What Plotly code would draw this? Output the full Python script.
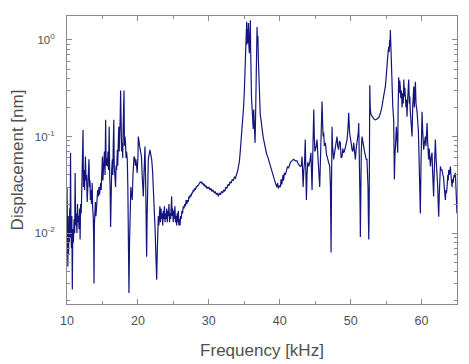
import plotly.graph_objects as go

freq_khz = [
    10.00, 10.04, 10.08, 10.12, 10.17, 10.22, 10.27, 10.32, 10.38, 10.44,
    10.50, 10.56, 10.62, 10.68, 10.75, 10.82, 10.90, 11.00, 11.08, 11.15,
    11.22, 11.30, 11.40, 11.48, 11.55, 11.62, 11.70, 11.78, 11.85, 11.92,
    12.00, 12.05, 12.12, 12.20, 12.26, 12.32, 12.40, 12.48, 12.55, 12.60,
    12.68, 12.76, 12.85, 12.95, 13.02, 13.10, 13.18, 13.25, 13.30, 13.38,
    13.45, 13.55, 13.62, 13.70, 13.76, 13.81, 13.86, 13.94, 14.00, 14.08,
    14.15, 14.25, 14.33, 14.42, 14.50, 14.58, 14.66, 14.75, 14.82, 14.90,
    15.00, 15.06, 15.12, 15.20, 15.28, 15.36, 15.45, 15.52, 15.60, 15.70,
    15.78, 15.86, 15.95, 16.02, 16.08, 16.15, 16.22, 16.30, 16.40, 16.46,
    16.52, 16.60, 16.66, 16.72, 16.78, 16.85, 16.92, 17.00, 17.10, 17.16,
    17.22, 17.30, 17.36, 17.42, 17.50, 17.56, 17.62, 17.70, 17.80, 17.86,
    17.92, 17.98, 18.04, 18.10, 18.18, 18.25, 18.32, 18.40, 18.50, 18.58,
    18.65, 18.74, 18.82, 18.90, 19.00, 19.10, 19.20, 19.30, 19.38, 19.45,
    19.55, 19.65, 19.72, 19.80, 19.90, 20.00, 20.06, 20.15, 20.25, 20.35,
    20.50, 20.60, 20.70, 20.76, 20.85, 21.00, 21.10, 21.18, 21.23, 21.30,
    21.40, 21.47, 21.58, 21.70, 21.82, 21.94, 22.06, 22.18, 22.30, 22.41,
    22.50, 22.58, 22.65, 22.72, 22.80, 22.88, 22.95, 23.02, 23.10, 23.18,
    23.26, 23.34, 23.42, 23.50, 23.58, 23.66, 23.74, 23.82, 23.90, 23.98,
    24.06, 24.14, 24.22, 24.30, 24.38, 24.46, 24.54, 24.62, 24.70, 24.76,
    24.82, 24.90, 24.98, 25.06, 25.14, 25.22, 25.30, 25.38, 25.46, 25.54,
    25.62, 25.70, 25.78, 25.86, 25.94, 26.02, 26.10, 26.20, 26.30, 26.40,
    26.50, 26.60, 26.70, 26.80, 26.90, 27.00, 27.10, 27.20, 27.30, 27.40,
    27.50, 27.60, 27.70, 27.80, 27.90, 28.00, 28.10, 28.20, 28.30, 28.40,
    28.50, 28.60, 28.70, 28.80, 28.90, 29.00, 29.10, 29.20, 29.30, 29.40,
    29.50, 29.60, 29.70, 29.80, 29.90, 30.00, 30.15, 30.30, 30.45, 30.60,
    30.78, 30.90, 31.05, 31.20, 31.35, 31.50, 31.65, 31.80, 31.95, 32.10,
    32.25, 32.40, 32.55, 32.70, 32.85, 33.00, 33.15, 33.30, 33.45, 33.60,
    33.75, 33.90, 34.00, 34.10, 34.20, 34.30, 34.42, 34.54, 34.66, 34.78,
    34.90, 35.00, 35.12, 35.25, 35.30, 35.34, 35.38, 35.43, 35.48, 35.54,
    35.58, 35.64, 35.72, 35.78, 35.86, 35.90, 35.95, 36.02, 36.10, 36.19,
    36.26, 36.33, 36.40, 36.46, 36.52, 36.58, 36.66, 36.72, 36.80, 36.86,
    36.92, 36.99, 37.06, 37.13, 37.25, 37.36, 37.50, 37.65, 37.83, 38.00,
    38.15, 38.30, 38.50, 38.77, 39.00, 39.24, 39.45, 39.60, 39.70, 39.80,
    39.95, 40.10, 40.18, 40.30, 40.45, 40.55, 40.65, 40.80, 40.95, 41.10,
    41.25, 41.40, 41.50, 41.70, 41.97, 42.20, 42.44, 42.60, 42.75, 42.90,
    43.05, 43.15, 43.22, 43.30, 43.40, 43.50, 43.60, 43.68, 43.76, 43.85,
    43.95, 44.10, 44.25, 44.40, 44.50, 44.56, 44.65, 44.72, 44.80, 44.88,
    44.95, 45.03, 45.15, 45.26, 45.40, 45.52, 45.64, 45.75, 45.85, 45.97,
    46.05, 46.12, 46.20, 46.30, 46.44, 46.60, 46.77, 46.90, 47.05, 47.15,
    47.24, 47.30, 47.38, 47.45, 47.52, 47.60, 47.70, 47.85, 47.95, 48.08,
    48.18, 48.30, 48.42, 48.55, 48.65, 48.79, 48.90, 49.00, 49.12, 49.26,
    49.38, 49.50, 49.62, 49.73, 49.85, 49.96, 50.08, 50.20, 50.32, 50.43,
    50.55, 50.67, 50.78, 50.90, 51.00, 51.08, 51.14, 51.20, 51.28, 51.33,
    51.37, 51.42, 51.50, 51.60, 51.70, 51.84, 51.95, 52.08, 52.20, 52.30,
    52.38, 52.45, 52.50, 52.56, 52.62, 52.70, 52.76, 52.85, 53.02, 53.20,
    53.35, 53.50, 53.70, 53.96, 54.20, 54.40, 54.65, 54.90, 55.02, 55.13,
    55.25, 55.37, 55.43, 55.50, 55.55, 55.60, 55.66, 55.74, 55.80, 55.84,
    55.95, 56.07, 56.12, 56.17, 56.24, 56.30, 56.38, 56.45, 56.55, 56.64,
    56.70, 56.78, 56.85, 56.92, 57.00, 57.08, 57.16, 57.25, 57.35, 57.42,
    57.50, 57.58, 57.65, 57.70, 57.80, 57.88, 57.95, 58.05, 58.12, 58.19,
    58.28, 58.35, 58.40, 58.50, 58.58, 58.66, 58.75, 58.82, 58.90, 58.98,
    59.05, 59.13, 59.22, 59.30, 59.37, 59.47, 59.55, 59.65, 59.75, 59.83,
    59.92, 60.00, 60.07, 60.15, 60.22, 60.30, 60.40, 60.48, 60.54, 60.62,
    60.70, 60.78, 60.86, 60.94, 61.00, 61.08, 61.15, 61.25, 61.35, 61.48,
    61.55, 61.62, 61.70, 61.78, 61.86, 61.95, 62.05, 62.12, 62.19, 62.28,
    62.35, 62.42, 62.50, 62.58, 62.66, 62.78, 62.90, 63.00, 63.10, 63.20,
    63.28, 63.36, 63.45, 63.52, 63.60, 63.70, 63.76, 63.83, 63.92, 64.00,
    64.07, 64.15, 64.22, 64.30, 64.38, 64.45, 64.50, 64.60, 64.68, 64.77,
    64.85, 64.92, 65.00,
]

displacement_nm = [
    0.030, 0.008, 0.020, 0.0045, 0.015, 0.006, 0.012, 0.008, 0.018, 0.009,
    0.068, 0.012, 0.007, 0.015, 0.0026, 0.011, 0.008, 0.014, 0.010, 0.042,
    0.012, 0.016, 0.010, 0.020, 0.013, 0.015, 0.011, 0.018, 0.0086, 0.020,
    0.016, 0.022, 0.035, 0.050, 0.117, 0.030, 0.045, 0.028, 0.040, 0.062,
    0.035, 0.040, 0.021, 0.030, 0.045, 0.058, 0.030, 0.035, 0.022, 0.028,
    0.020, 0.033, 0.018, 0.015, 0.009, 0.003, 0.012, 0.018, 0.021, 0.015,
    0.020, 0.022, 0.028, 0.024, 0.030, 0.025, 0.030, 0.033, 0.028, 0.040,
    0.062, 0.035, 0.050, 0.045, 0.070, 0.040, 0.149, 0.050, 0.060, 0.049,
    0.070, 0.045, 0.126, 0.040, 0.030, 0.0116, 0.035, 0.045, 0.058, 0.040,
    0.080, 0.149, 0.050, 0.045, 0.035, 0.030, 0.050, 0.045, 0.073, 0.050,
    0.080, 0.126, 0.070, 0.090, 0.150, 0.30, 0.090, 0.070, 0.086, 0.060,
    0.120, 0.180, 0.30, 0.080, 0.100, 0.086, 0.060, 0.070, 0.058, 0.030,
    0.010, 0.0024, 0.008, 0.022, 0.030, 0.025, 0.022, 0.040, 0.055, 0.062,
    0.060, 0.050, 0.058, 0.045, 0.042, 0.060, 0.100, 0.090, 0.079, 0.070,
    0.062, 0.040, 0.030, 0.024, 0.040, 0.079, 0.030, 0.012, 0.0057, 0.015,
    0.045, 0.058, 0.065, 0.073, 0.065, 0.058, 0.045, 0.030, 0.020, 0.0116,
    0.007, 0.004, 0.0033, 0.006, 0.010, 0.015, 0.012, 0.017, 0.019, 0.013,
    0.018, 0.014, 0.016, 0.012, 0.017, 0.014, 0.019, 0.013, 0.016, 0.014,
    0.018, 0.013, 0.017, 0.015, 0.020, 0.013, 0.016, 0.014, 0.021, 0.024,
    0.015, 0.018, 0.013, 0.017, 0.014, 0.019, 0.013, 0.015, 0.012, 0.016,
    0.013, 0.017, 0.012, 0.014, 0.012, 0.015, 0.014, 0.017, 0.016, 0.019,
    0.018, 0.020, 0.019, 0.022, 0.020, 0.022, 0.021, 0.024, 0.023, 0.025,
    0.024, 0.026, 0.026, 0.028, 0.027, 0.029, 0.028, 0.030, 0.030, 0.031,
    0.031, 0.032, 0.033, 0.034, 0.033, 0.034, 0.032, 0.033, 0.031, 0.032,
    0.030, 0.031, 0.029, 0.030, 0.029, 0.030, 0.028, 0.029, 0.027, 0.028,
    0.026, 0.027, 0.025, 0.026, 0.024, 0.026, 0.025, 0.027, 0.026, 0.028,
    0.027, 0.030, 0.029, 0.032, 0.031, 0.034, 0.033, 0.036, 0.035, 0.038,
    0.037, 0.040, 0.042, 0.045, 0.050, 0.054, 0.068, 0.086, 0.115, 0.149,
    0.20, 0.28, 0.45, 0.73, 1.2, 1.54, 0.9, 1.3, 0.93, 1.2,
    1.5, 0.9, 0.73, 1.1, 1.6, 0.8, 0.36, 0.25, 0.20, 0.16,
    0.12, 0.19, 0.11, 0.15, 0.086, 0.14, 0.28, 0.60, 1.36, 0.9,
    1.1, 0.62, 0.35, 0.20, 0.17, 0.149, 0.120, 0.100, 0.086, 0.072,
    0.066, 0.062, 0.055, 0.049, 0.040, 0.036, 0.032, 0.030, 0.033, 0.029,
    0.031, 0.030, 0.036, 0.032, 0.040, 0.035, 0.042, 0.040, 0.046, 0.049,
    0.047, 0.052, 0.054, 0.056, 0.058, 0.056, 0.056, 0.052, 0.050, 0.049,
    0.050, 0.062, 0.045, 0.030, 0.045, 0.054, 0.093, 0.050, 0.022, 0.040,
    0.054, 0.049, 0.055, 0.068, 0.045, 0.028, 0.060, 0.090, 0.19, 0.100,
    0.070, 0.073, 0.080, 0.093, 0.060, 0.045, 0.030, 0.060, 0.110, 0.23,
    0.14, 0.100, 0.110, 0.080, 0.086, 0.065, 0.058, 0.052, 0.049, 0.030,
    0.0063, 0.030, 0.126, 0.080, 0.070, 0.058, 0.065, 0.079, 0.090, 0.100,
    0.080, 0.073, 0.090, 0.086, 0.060, 0.062, 0.075, 0.068, 0.070, 0.079,
    0.085, 0.093, 0.120, 0.176, 0.110, 0.100, 0.085, 0.073, 0.070, 0.086,
    0.070, 0.058, 0.075, 0.086, 0.090, 0.110, 0.138, 0.080, 0.058, 0.020,
    0.0091, 0.030, 0.068, 0.100, 0.085, 0.079, 0.070, 0.062, 0.058, 0.058,
    0.045, 0.030, 0.015, 0.0086, 0.020, 0.34, 0.20, 0.17, 0.160, 0.155,
    0.150, 0.149, 0.152, 0.156, 0.175, 0.20, 0.26, 0.33, 0.42, 0.58,
    0.70, 0.85, 0.75, 1.0, 0.85, 1.27, 0.90, 0.53, 0.38, 0.28,
    0.20, 0.149, 0.080, 0.036, 0.060, 0.090, 0.110, 0.126, 0.090, 0.068,
    0.200, 0.41, 0.28, 0.38, 0.33, 0.25, 0.30, 0.20, 0.28, 0.22,
    0.39, 0.26, 0.32, 0.26, 0.20, 0.24, 0.16, 0.25, 0.30, 0.39,
    0.22, 0.26, 0.19, 0.15, 0.12, 0.10, 0.20, 0.25, 0.33, 0.20,
    0.28, 0.37, 0.22, 0.20, 0.18, 0.14, 0.117, 0.06, 0.03, 0.016,
    0.05, 0.12, 0.18, 0.12, 0.09, 0.073, 0.085, 0.100, 0.100, 0.08,
    0.11, 0.138, 0.09, 0.07, 0.058, 0.075, 0.055, 0.049, 0.060, 0.068,
    0.045, 0.030, 0.024, 0.040, 0.060, 0.093, 0.060, 0.050, 0.045, 0.030,
    0.020, 0.0148, 0.025, 0.040, 0.049, 0.045, 0.045, 0.040, 0.038, 0.030,
    0.025, 0.022, 0.028, 0.026, 0.030, 0.040, 0.035, 0.045, 0.040, 0.047,
    0.049, 0.040, 0.035, 0.030, 0.036, 0.033, 0.036, 0.040, 0.038, 0.042,
    0.030, 0.020, 0.016,
]

x_tick_vals = [10, 20, 30, 40, 50, 60]
x_tick_text = ["10", "20", "30", "40", "50", "60"]
y_tick_vals = [1, 0.1, 0.01]
y_tick_text = ["10<sup>0</sup>", "10<sup>-1</sup>", "10<sup>-2</sup>"]

y_minor = [k * 10.0 ** e for e in (-3, -2, -1, 0) for k in range(2, 10)]
y_minor = [v for v in y_minor if 0.0018 < v < 1.8]

GRAY = "#505050"
AXIS = "#8a8a8a"

fig = go.Figure()
fig.add_trace(go.Scatter(
    x=freq_khz, y=displacement_nm, mode="lines",
    line=dict(color="#15157e", width=1.2),
    showlegend=False,
))

fig.update_layout(
    width=469, height=364,
    margin=dict(l=67, r=12, t=16, b=60, autoexpand=False),
    paper_bgcolor="white", plot_bgcolor="white",
    font=dict(family="Liberation Sans, Arial, sans-serif", color=GRAY),
)
fig.update_xaxes(
    range=[10, 65], tickvals=x_tick_vals, ticktext=x_tick_text,
    ticks="inside", ticklen=5, tickcolor=AXIS,
    minor=dict(ticks="inside", ticklen=3, tickcolor=AXIS, tickvals=[15, 25, 35, 45, 55, 65]),
    showline=True, linecolor=AXIS, linewidth=1, mirror="allticks",
    showgrid=False, zeroline=False, automargin=False,
    ticklabelstandoff=5,
    tickfont=dict(size=12.5, color=GRAY),
    title=dict(text="Frequency [kHz]", font=dict(size=17, color=GRAY), standoff=17),
)
fig.update_yaxes(
    type="log", range=[-2.734, 0.248],
    tickvals=y_tick_vals, ticktext=y_tick_text,
    ticks="inside", ticklen=5, tickcolor=AXIS,
    minor=dict(ticks="inside", ticklen=3, tickcolor=AXIS, tickvals=y_minor),
    showline=True, linecolor=AXIS, linewidth=1, mirror="allticks",
    showgrid=False, zeroline=False, automargin=False,
    ticklabelstandoff=9,
    tickfont=dict(size=11.5, color=GRAY),
    title=dict(text="Displacement [nm]", font=dict(size=17, color=GRAY), standoff=6),
)

fig.write_html(
    "out.html",
    config={"displayModeBar": False},
    post_script="document.body.style.margin='0';document.body.style.padding='0';",
)
